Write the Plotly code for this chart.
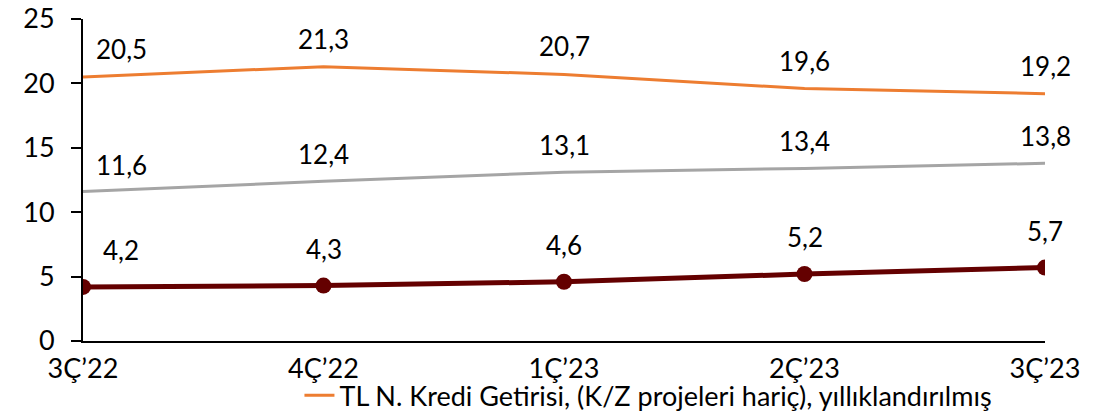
import plotly.graph_objects as go

categories = ["3Ç’22", "4Ç’22", "1Ç’23", "2Ç’23", "3Ç’23"]
kredi_getirisi = [20.5, 21.3, 20.7, 19.6, 19.2]
seri_gri = [11.6, 12.4, 13.1, 13.4, 13.8]
seri_koyu = [4.2, 4.3, 4.6, 5.2, 5.7]
y_ticks = [0, 5, 10, 15, 20, 25]

FONT = "Lato"
fig = go.Figure()
fig.add_trace(go.Scatter(x=categories, y=kredi_getirisi, mode="lines",
                         line=dict(color="#ED7D31", width=3),
                         name="TL N. Kredi Getirisi, (K/Z projeleri hariç), yıllıklandırılmış",
                         showlegend=True))
fig.add_trace(go.Scatter(x=categories, y=seri_gri, mode="lines",
                         line=dict(color="#A5A5A5", width=3), showlegend=False))
fig.add_trace(go.Scatter(x=categories, y=seri_koyu, mode="lines+markers",
                         line=dict(color="#640000", width=5),
                         marker=dict(size=16, color="#640000"), showlegend=False))

def fmt(v):
    return f"{v:.1f}".replace(".", ",")

for series, ysh in [(kredi_getirisi, 28), (seri_gri, 27), (seri_koyu, 37)]:
    for i, (c, v) in enumerate(zip(categories, series)):
        xs = 38 if i == 0 else 0
        fig.add_annotation(x=c, y=v, text=fmt(v), showarrow=False,
                           xshift=xs, yshift=ysh,
                           font=dict(family=FONT, size=26, color="#000000"))

fig.update_layout(
    width=1112, height=413,
    margin=dict(l=83, r=67, t=19, b=72, autoexpand=False),
    paper_bgcolor="white", plot_bgcolor="white",
    font=dict(family=FONT, size=27, color="#000000"),
    legend=dict(orientation="h", x=0.225, xanchor="left",
                yref="container", y=0.042, yanchor="middle",
                font=dict(family=FONT, size=27, color="#000000"),
                bgcolor="rgba(0,0,0,0)"),
)
fig.update_xaxes(type="category", range=[0, 4], showline=True, linecolor="#000000",
                 linewidth=2, ticks="", showgrid=False, zeroline=False, automargin=False,
                 tickfont=dict(family=FONT, size=27), ticklabelstandoff=3)
fig.update_yaxes(range=[0, 25], tickvals=y_ticks, showline=True, linecolor="#000000",
                 linewidth=2, ticks="outside", ticklen=10, tickwidth=2, tickcolor="#000000",
                 showgrid=False, zeroline=False, automargin=False,
                 tickfont=dict(family=FONT, size=27), ticklabelstandoff=11)

fig.write_html("out.html", config={"displayModeBar": False},
               post_script="document.body.style.margin='0';document.body.style.overflow='hidden';")
